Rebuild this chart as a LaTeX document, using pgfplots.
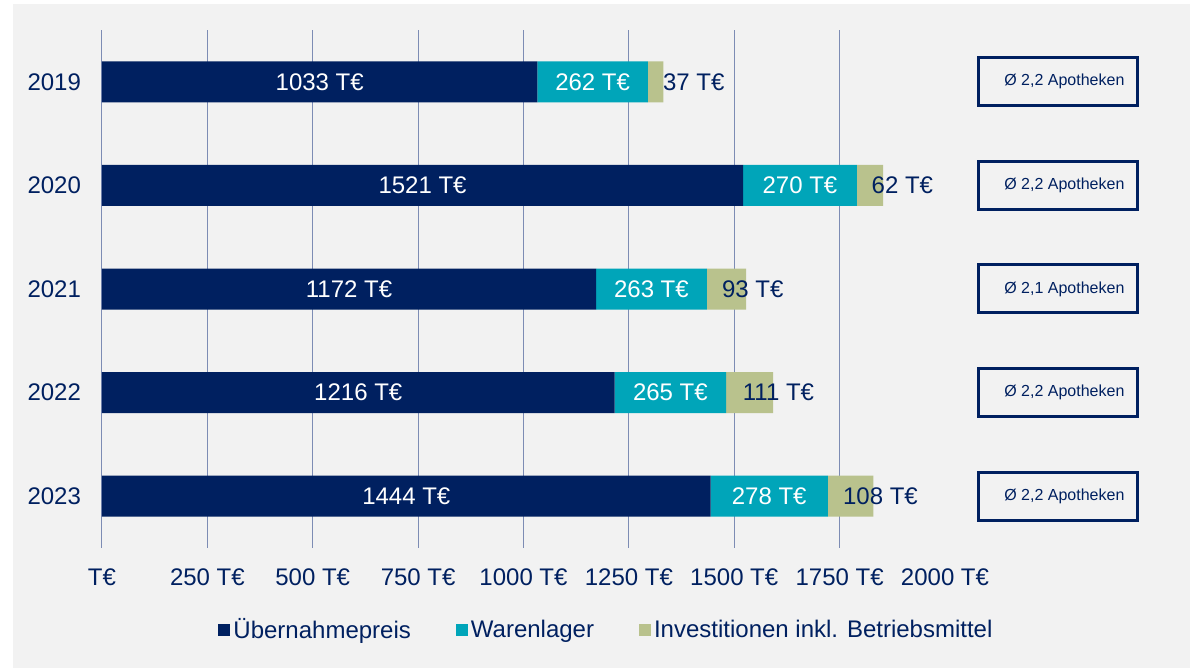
\documentclass[border=0pt]{standalone}
\usepackage{fontspec}
\setmainfont{Liberation Sans}
\usepackage{pgfplots}
\pgfplotsset{compat=1.18}
\definecolor{navy}{RGB}{0,32,96}
\definecolor{teal2}{RGB}{0,165,185}
\definecolor{olive2}{RGB}{185,194,141}
\definecolor{txt}{RGB}{0,32,96}
\definecolor{gridc}{RGB}{125,140,180}
\definecolor{bg}{RGB}{242,242,242}
\tikzset{
 lw/.style={white, font=\fontsize{12}{14}\selectfont},
 lb/.style={text=txt, font=\fontsize{12}{14}\selectfont},
 bx/.style={draw=navy, line width=1.5pt, minimum width=79.5pt, minimum height=24pt, inner sep=0pt, text=txt, font=\fontsize{8}{10}\selectfont}
}
\begin{document}
\begin{tikzpicture}
\fill[white] (-51pt,-60pt) rectangle (544pt,274pt);
\fill[bg] (-44.5pt,-60pt) rectangle (544pt,272pt);
\begin{axis}[
 scale only axis, width=421.5pt, height=259pt,
 at={(0pt,0pt)}, anchor=south west,
 xmin=0, xmax=2000, ymin=-0.5, ymax=4.5, y dir=reverse,
 xbar stacked, bar width=20.5pt,
 axis line style={draw=none},
 major tick length=0pt,
 xtick={0,250,...,1750},
 xticklabels={T€,250 T€,500 T€,750 T€,1000 T€,1250 T€,1500 T€,1750 T€},
 extra x ticks={2000}, extra x tick labels={2000 T€}, extra x tick style={grid=none},
 xmajorgrids, major grid style={gridc, line width=0.5pt},
 ytick={0,...,4}, yticklabels={2019,2020,2021,2022,2023},
 tick label style={font=\fontsize{12}{14}\selectfont, text=txt},
 xticklabel style={yshift=-7pt},
 yticklabel style={xshift=-7pt},
 clip=false,
 legend style={at={(0.599,-0.158)}, anchor=center, draw=none, fill=none,
   font=\fontsize{12}{14}\selectfont, text=txt,
   /tikz/every even column/.append style={column sep=21pt},
   nodes={inner sep=1.5pt}},
 legend columns=3,
 legend cell align=left,
]
\addplot[fill=navy, draw=none, legend image code/.code={\fill[navy] (0pt,-3pt) rectangle (6pt,3pt);}]
 coordinates {(1033,0) (1521,1) (1172,2) (1216,3) (1444,4)};
\addlegendentry{Übernahmepreis}
\addplot[fill=teal2, draw=none, legend image code/.code={\fill[teal2] (0pt,-3pt) rectangle (6pt,3pt);}]
 coordinates {(262,0) (270,1) (263,2) (265,3) (278,4)};
\addlegendentry{Warenlager}
\addplot[fill=olive2, draw=none, legend image code/.code={\fill[olive2] (0pt,-3pt) rectangle (6pt,3pt);}]
 coordinates {(37,0) (62,1) (93,2) (111,3) (108,4)};
\addlegendentry{Investitionen inkl. Betriebsmittel}

\coordinate (a0) at (axis cs:516.5,0);
\coordinate (a1) at (axis cs:760.5,1);
\coordinate (a2) at (axis cs:586,2);
\coordinate (a3) at (axis cs:608,3);
\coordinate (a4) at (axis cs:722,4);
\coordinate (b0) at (axis cs:1164,0);
\coordinate (b1) at (axis cs:1656,1);
\coordinate (b2) at (axis cs:1303.5,2);
\coordinate (b3) at (axis cs:1348.5,3);
\coordinate (b4) at (axis cs:1583,4);
\coordinate (c0) at (axis cs:1404,0);
\coordinate (c1) at (axis cs:1899,1);
\coordinate (c2) at (axis cs:1544,2);
\coordinate (c3) at (axis cs:1605,3);
\coordinate (c4) at (axis cs:1847,4);
\coordinate (d0) at (axis cs:2269,0);
\coordinate (d1) at (axis cs:2269,1);
\coordinate (d2) at (axis cs:2269,2);
\coordinate (d3) at (axis cs:2269,3);
\coordinate (d4) at (axis cs:2269,4);
\end{axis}
\node[lw] at (a0) {1033 T€};
\node[lw] at (a1) {1521 T€};
\node[lw] at (a2) {1172 T€};
\node[lw] at (a3) {1216 T€};
\node[lw] at (a4) {1444 T€};
\node[lw] at (b0) {262 T€};
\node[lw] at (b1) {270 T€};
\node[lw] at (b2) {263 T€};
\node[lw] at (b3) {265 T€};
\node[lw] at (b4) {278 T€};
\node[lb] at (c0) {37 T€};
\node[lb] at (c1) {62 T€};
\node[lb] at (c2) {93 T€};
\node[lb] at (c3) {111 T€};
\node[lb] at (c4) {108 T€};
\node[bx] at (d0) {\hspace*{6pt}Ø 2,2 Apotheken};
\node[bx] at (d1) {\hspace*{6pt}Ø 2,2 Apotheken};
\node[bx] at (d2) {\hspace*{6pt}Ø 2,1 Apotheken};
\node[bx] at (d3) {\hspace*{6pt}Ø 2,2 Apotheken};
\node[bx] at (d4) {\hspace*{6pt}Ø 2,2 Apotheken};
\pgfresetboundingbox
\useasboundingbox (-51pt,-60pt) rectangle (544pt,274pt);
\end{tikzpicture}
\end{document}
